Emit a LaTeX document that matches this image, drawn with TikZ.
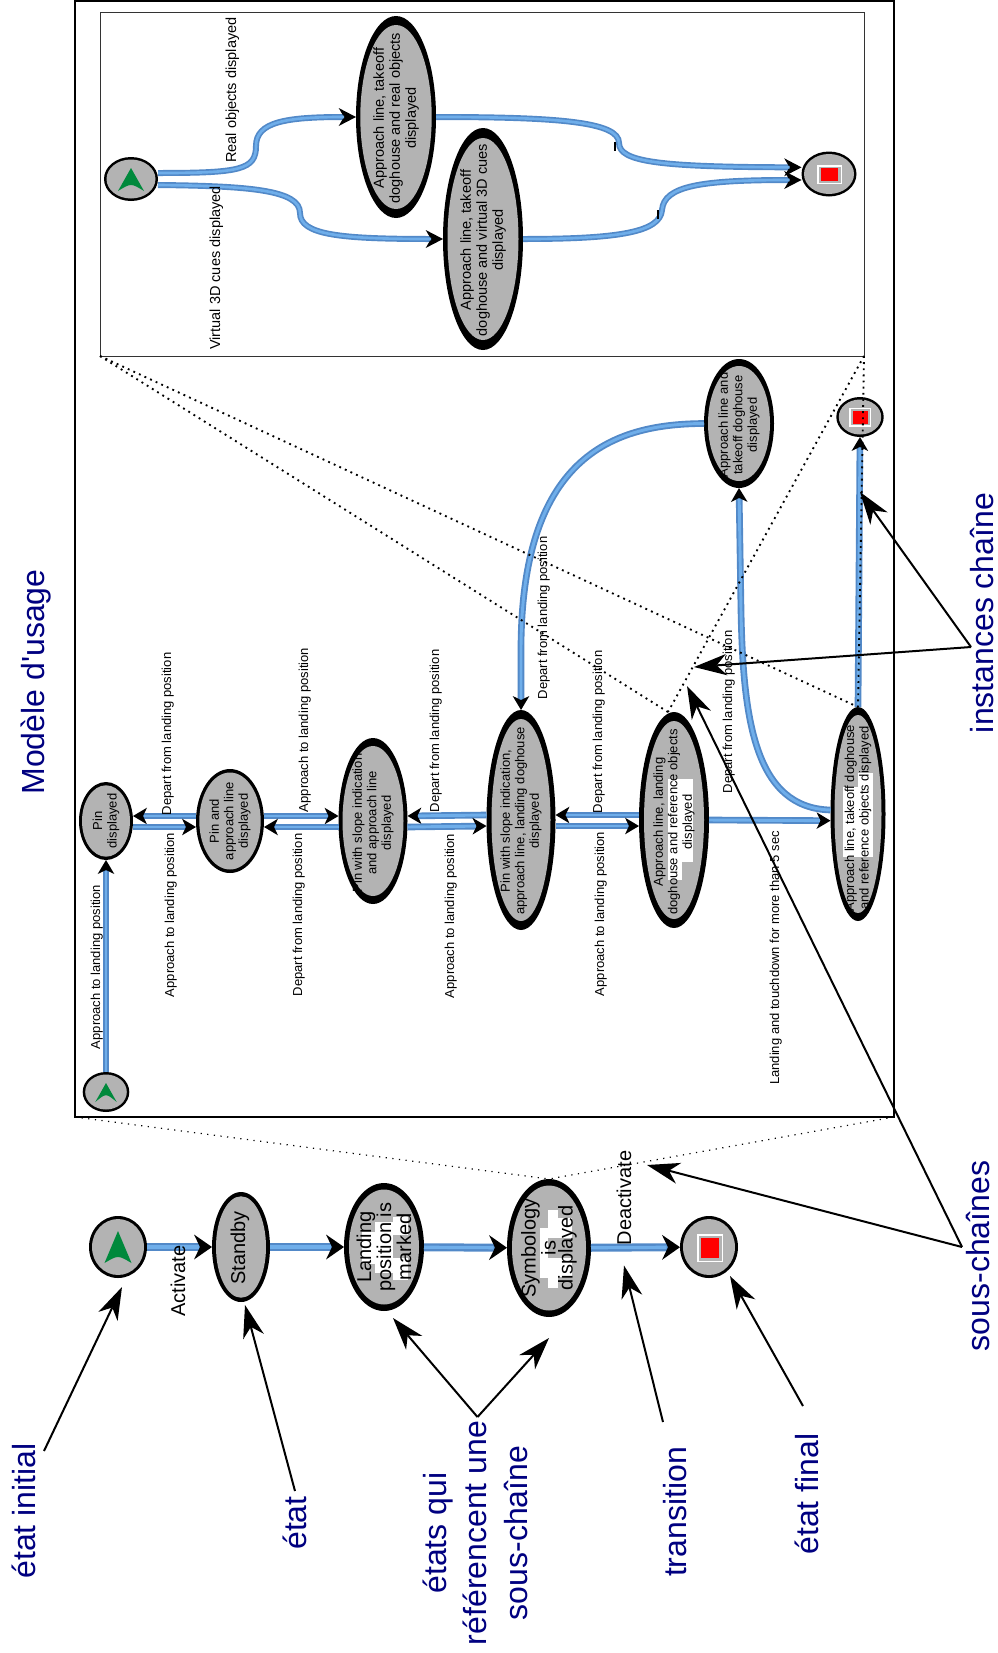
\documentclass[tikz,border=0pt]{standalone}
\usepackage{fontspec}
\setmainfont{Liberation Sans}
\newfontfamily\rawfont{Liberation Sans}
\usetikzlibrary{arrows.meta,shapes.geometric}
\definecolor{statefill}{HTML}{B3B3B3}
\definecolor{flowedge}{HTML}{5289C8}
\definecolor{flowmid}{HTML}{6FAEEA}
\definecolor{navytxt}{HTML}{000080}
\definecolor{greenmark}{HTML}{00893C}
\tikzset{
  ringshape/.style={ellipse,fill=black,inner sep=0pt,outer sep=0pt},
  flowbase/.style={draw=flowedge,line cap=butt},
  flowL/.style={flowbase,line width=6pt,-{Stealth[length=13.5pt,width=18.75pt,inset=4.5pt,color=black,fill=black,line width=0pt]},
     postaction={draw=flowmid,line width=2.4pt,-,shorten >=10pt}},
  flowM/.style={flowbase,line width=5pt,-{Stealth[length=10.5pt,width=12.5pt,inset=3pt,color=black,fill=black,line width=0pt]},
     postaction={draw=flowmid,line width=2.2pt,-,shorten >=8pt}},
  flowI/.style={flowbase,line width=4.5pt,-{Stealth[length=13pt,width=13.5pt,inset=4pt,color=black,fill=black,line width=0pt]},
     postaction={draw=flowmid,line width=2pt,-,shorten >=9pt}},
  dotA/.style={draw=black,line width=1.4pt,dash pattern=on 1.4pt off 3.2pt},
  dotB/.style={draw=black,line width=.9pt,dash pattern=on .9pt off 4.1pt},
  notearrow/.style={draw=black,line width=1.5pt,-{Stealth[length=24.5pt,width=16pt,inset=7.5pt,color=black,fill=black,line width=0pt]}},
  stxt/.style={rotate=90,align=center,inner sep=0pt,text=black},
  txA/.style={stxt,font=\fontsize{15}{12.75}\selectfont},
  txB/.style={stxt,font=\fontsize{10.9}{12}\selectfont},
  txC/.style={stxt,font=\fontsize{9.75}{10.9}\selectfont},
  lbA/.style={rotate=90,anchor=base,inner sep=0pt,font=\fontsize{15}{18}\selectfont},
  lbB/.style={rotate=90,anchor=base,inner sep=0pt,font=\fontsize{10.9}{13}\selectfont},
  lbC/.style={rotate=90,anchor=base,inner sep=0pt,font=\fontsize{9.75}{12}\selectfont},
  bigl/.style={rotate=90,anchor=base,inner sep=0pt,text=navytxt,font=\fontsize{24}{30}\selectfont},
}
\newcommand{\stt}[8]{%
  \node[ringshape,minimum width=#4*1.5pt,minimum height=#5*1.5pt] (#1) at (#2,#3) {};
  \fill[statefill] (#2,#3) ellipse [x radius={(#4-#6)*0.75pt},y radius={(#5-#7)*0.75pt}];
  #8}
\newcommand{\pch}[4]{\fill[white] (#1,#2) rectangle (#3,#4);}
\newcommand{\grn}[5]{\fill[greenmark] (#1,#2) -- (#1-#3,#4) .. controls (#1,#5) .. (#1+#3,#4) -- cycle;}
\newcommand{\stopmark}[6]{%
  \fill[white] (#1-#3,#2-#4) rectangle (#1+#3,#2+#4);
  \fill[statefill] (#1-#3+1.5,#2-#4+1.5) rectangle (#1+#3-1.5,#2+#4-1.5);
  \fill[red] (#1-#5,#2-#6) rectangle (#1+#5,#2+#6);}
\begin{document}
\begin{tikzpicture}[x=.75pt,y=-.75pt]
\path[use as bounding box,fill=white] (0,0) rectangle (998,1653);

% frames
\node[draw=black,line width=1.5pt,minimum width=819*.75pt,minimum height=1116*.75pt,inner sep=0pt,outer sep=0pt] (outer) at (484.5,559) {};
\node[draw=black!80,line width=.7pt,minimum width=764*.75pt,minimum height=344*.75pt,inner sep=0pt,outer sep=0pt] (inner) at (482,184) {};

% top-level chain
\stt{iniB}{118}{1247}{29}{31}{3}{3}{\grn{118}{1231}{13.5}{1263}{1255}}
\stt{standby}{241}{1247}{29}{55}{4}{4.3}{}
\stt{landing}{384}{1247}{40}{64}{5}{6.5}{\pch{362}{1232}{375}{1264}\pch{375}{1222}{393}{1273}\pch{393}{1217}{408}{1235}\pch{393}{1258}{408}{1280}}
\stt{symb}{549}{1248}{42}{69}{5}{6.5}{\pch{540}{1228}{548}{1278}\pch{548}{1210}{558}{1238}\pch{548}{1258}{558}{1288}\pch{558}{1218}{572}{1238}\pch{558}{1258}{572}{1277}}
\stt{finB}{709}{1247}{29}{31}{3}{3}{\stopmark{710}{1248}{13}{14}{9.3}{10}}
\node[txA] (standbyT) at (240,1248) {Standby};
\node[txA] (landingT) at (384,1247) {Landing\\position is\\marked};
\node[txA] (symbT) at (549,1248) {Symbology\\is\\displayed};
\draw[flowL] (iniB) -- (standby);
\draw[flowL] (standby) -- (landing);
\draw[flowL] (landing) -- (symb);
\draw[flowL] (symb) -- (finB);
\node[lbA] (lActivate) at (185,1281) {Activate};
\node[lbA] (lDeactivate) at (631,1198) {Deactivate};

% model chain
\stt{iniM}{106}{1092}{23.3}{20}{2.5}{2.5}{\grn{106}{1083}{10.7}{1102}{1093}}
\stt{pin}{106}{821}{27}{39}{3}{3.3}{}
\stt{papp}{230}{821}{34}{52}{3.3}{3.5}{}
\stt{pslope}{373}{821}{34.5}{83}{4}{8}{}
\stt{pfull}{521}{820}{34.5}{110}{5}{9}{}
\stt{aland}{674}{820}{35}{108}{5}{9}{\pch{668}{779}{682}{880}\pch{682}{779}{693}{862}}
\stt{atake}{858}{814}{27.5}{107}{4}{8}{\pch{843}{787}{858}{857}\pch{858}{773}{873}{857}}
\stt{aline}{739}{423.5}{35}{64.5}{4}{7}{}
\stt{finM}{860}{417}{23.7}{20}{2.5}{2.5}{\stopmark{860}{417}{11}{9.5}{7.5}{6.5}}
\node[txC] (pinT) at (106,821) {Pin\\displayed};
\node[txC] (pappT) at (230,821) {Pin and\\approach line\\displayed};
\node[txC] (pslopeT) at (373,823) {Pin with slope indication\\and approach line\\displayed};
\node[txC] (pfullT) at (521,821) {Pin with slope indication,\\approach line, landing doghouse\\displayed};
\node[txC] (alandT) at (674,822) {Approach line, landing\\doghouse and reference objects\\displayed};
\node[txC] (atakeT) at (858,818) {Approach line, takeoff doghouse\\and reference objects displayed};
\node[txC] (alineT) at (739,425) {Approach line and\\takeoff doghouse\\displayed};

\draw[flowM] (iniM) -- (pin);
\draw[flowM] ([yshift=3.75pt]papp.west) -- ([yshift=3.75pt]pin.east);
\draw[flowM] ([yshift=-4.5pt]pin.east) -- ([yshift=-4.5pt]papp.west);
\draw[flowM] ([yshift=3.75pt]papp.east) -- ([yshift=3.75pt]pslope.west);
\draw[flowM] ([yshift=-4.5pt]pslope.west) -- ([yshift=-4.5pt]papp.east);
\draw[flowM] ([yshift=3.75pt]pfull.west) -- ([yshift=3.75pt]pslope.east);
\draw[flowM] ([yshift=-4.5pt]pslope.east) -- ([yshift=-4.5pt]pfull.west);
\draw[flowM] ([yshift=3.75pt]aland.west) -- ([yshift=3.75pt]pfull.east);
\draw[flowM] ([yshift=-4.5pt]pfull.east) -- ([yshift=-4.5pt]aland.west);
\draw[flowM] (aland.east) -- ([yshift=-5pt]atake.west);
\draw[flowM] ([yshift=3pt]atake.west) .. controls (755,808) and (743,720) .. (741,610) -- (aline.south);
\draw[flowM] (aline.west) .. controls (620,424) and (521,450) .. (521,650) -- (pfull.north);
\draw[flowM] (atake.north) -- (finM.south);

\node[lbC] (m1) at (100,967) {Approach to landing position};
\node[lbC] (m2) at (171,734) {Depart from landing position};
\node[lbC] (m3) at (174,915) {Approach to landing position};
\node[lbC] (m4) at (308,730) {Approach to landing position};
\node[lbC] (m5) at (302,915) {Depart from landing position};
\node[lbC] (m6) at (439,731) {Depart from landing position};
\node[lbC] (m7) at (454,916) {Approach to landing position};
\node[lbC] (m8) at (547,618) {Depart from landing position};
\node[lbC] (m9) at (602,732) {Depart from landing position};
\node[lbC] (m10) at (604,914) {Approach to landing position};
\node[lbC] (m11) at (732,712) {Depart from landing position};
\node[lbC] (m12) at (779,958) {Landing and touchdown for more than 5 sec};

% inner chain
\stt{iniI}{131}{179}{27}{22}{2.5}{2.5}{\grn{131}{168}{13}{191}{183}}
\stt{real}{396}{117}{40}{101}{4.3}{9}{}
\stt{virt}{483}{239}{40}{111}{4.5}{10}{}
\stt{finI}{829}{174}{27.5}{22.5}{2.5}{2.5}{\stopmark{829.5}{174.5}{12.5}{9.5}{8.5}{6.5}}
\node[txB] (realT) at (396,118) {Approach line, takeoff\\doghouse and real objects\\displayed};
\node[txB] (virtT) at (483,240) {Approach line, takeoff\\doghouse and virtual 3D cues\\displayed};
\coordinate (mA) at (256,146);
\coordinate (mB) at (300,213);
\coordinate (mC) at (619,143);
\coordinate (mD) at (662,210);
\draw[flowI] ([yshift=4.5pt]iniI.east) .. controls (240,173) and (256,170) .. (mA) .. controls (256,122) and (285,117) .. (real.west);
\draw[flowI] ([yshift=-4.5pt]iniI.east) .. controls (250,186) and (300,190) .. (mB) .. controls (300,235) and (340,239) .. (virt.west);
\draw[flowI] (real.east) .. controls (560,117) and (619,122) .. (mC) .. controls (619,162) and (660,167) .. ([yshift=5pt]finI.west);
\draw[flowI] (virt.east) .. controls (620,239) and (660,232) .. (mD) .. controls (664,186) and (700,180) .. ([yshift=-4.5pt]finI.west);
\fill[black] (614,142) rectangle (616,151);
\fill[black] (657,210) rectangle (659,219);
\node[lbB] (iReal) at (236,90) {Real objects displayed};
\node[lbB] (iVirt) at (220,268) {Virtual 3D cues displayed};

% dotted projection lines
\path[dotA] (inner.south west) -- ([xshift=-4.5pt]aland.north);
\path[dotA] (inner.south west) -- (atake.north);
\path[dotA] (inner.south east) -- ([xshift=-4.5pt]aland.north);
\path[dotA] (inner.south east) -- (atake.north);
\path[dotB] (outer.south west) -- (symb.north);
\path[dotB] (outer.south east) -- (symb.north);

% annotation arrows
\coordinate (aI) at (44,1451);
\coordinate (aE) at (295,1491);
\coordinate (aR) at (477.5,1417);
\coordinate (aT) at (663,1422);
\coordinate (aF) at (803,1406);
\coordinate (aS) at (962,1247);
\coordinate (aC) at (971,647);
\coordinate (tI) at (122,1287);
\coordinate (tE) at (245,1305);
\coordinate (tR1) at (393,1318);
\coordinate (tR2) at (549,1338);
\coordinate (tT) at (624,1265.5);
\coordinate (tF) at (730,1276);
\coordinate (tS1) at (647,1165);
\coordinate (tS2) at (687,686);
\coordinate (tC1) at (694,667);
\coordinate (tC2) at (860,492);
\draw[notearrow] (aI) -- (tI);
\draw[notearrow] (aE) -- (tE);
\draw[notearrow] (aR) -- (tR1);
\draw[notearrow] (aR) -- (tR2);
\draw[notearrow] (aT) -- (tT);
\draw[notearrow] (aF) -- (tF);
\draw[notearrow] (aS) -- (tS1);
\draw[notearrow] (aS) -- (tS2);
\draw[notearrow] (aC) -- (tC1);
\draw[notearrow] (aC) -- (tC2);

% big labels
\node[bigl] (bModele) at (44,682) {{\rawfont Modèle d'usage}};
\node[bigl] (bInit) at (35,1511) {état initial};
\node[bigl] (bEtat) at (306,1523) {état};
\node[bigl] (bR1) at (446,1533) {états qui};
\node[bigl] (bR2) at (486,1533) {référencent une};
\node[bigl] (bR3) at (527,1533) {sous-chaîne};
\node[bigl] (bTrans) at (686,1512) {transition};
\node[bigl] (bFinal) at (818,1494) {état final};
\node[bigl] (bSous) at (989,1256) {sous-chaînes};
\node[bigl] (bInst) at (993,613) {instances chaîne};
\end{tikzpicture}
\end{document}
